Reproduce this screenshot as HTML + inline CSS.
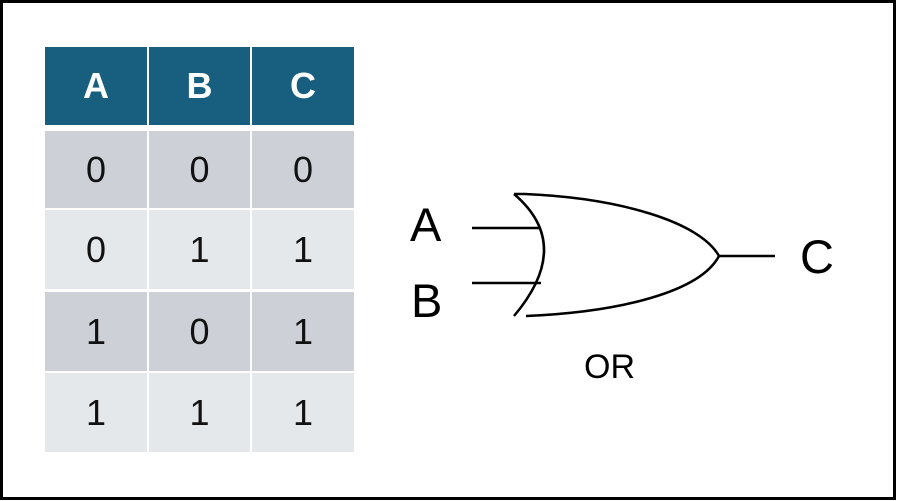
<!DOCTYPE html>
<html><head><meta charset="utf-8"><style>
html,body{margin:0;padding:0;background:#fff;width:911px;height:501px;overflow:hidden}
#frame{position:absolute;left:0;top:0;width:890px;height:494px;border:3px solid #000}
.cell{position:absolute;display:flex;align-items:center;justify-content:center;font-family:"Liberation Sans",sans-serif}
.h{background:#175e7f;color:#fff;font-weight:bold;font-size:36px}
.d{background:#cdd1d7;color:#111;font-size:36px}
.l{background:#e5e8eb;color:#111;font-size:36px}
svg{position:absolute;left:0;top:0}
</style></head><body>
<div id="frame"></div>
<div id="table"></div>
<svg width="911" height="501">
<g fill="none" stroke="#000" stroke-width="2.5">
<path d="M514,194 L525,194 C620,198 700,222 719,256 C700,292 620,312 526,316"/>
<path d="M514,194 Q574,245 514,316"/>
<line x1="472" y1="228" x2="541" y2="228"/>
<line x1="472" y1="283" x2="541" y2="283"/>
<line x1="719" y1="256" x2="775" y2="256"/>
</g>
<g font-family="Liberation Sans, sans-serif" fill="#000">
<text x="410" y="241" font-size="47">A</text>
<text x="411" y="317" font-size="47">B</text>
<text x="800" y="273" font-size="47">C</text>
<text x="584" y="378" font-size="34">OR</text>
</g>
</svg>
<script>
const headers=['A','B','C'];
const rows=[[0,0,0],[0,1,1],[1,0,1],[1,1,1]];
const colX=[45,149,252], colW=[102,101,102];
const rowY=[131,210,292,373], rowH=[77,79,79,79];
const t=document.getElementById('table');
headers.forEach((h,i)=>{
  const c=document.createElement('div');c.className='cell h';
  
  
  c.style.cssText=`left:${colX[i]}px;top:47px;width:${colW[i]}px;height:78px`;
  c.textContent=h;t.appendChild(c);
});
rows.forEach((r,ri)=>r.forEach((v,ci)=>{
  const c=document.createElement('div');c.className='cell '+(ri%2?'l':'d');
  
  
  c.style.cssText=`left:${colX[ci]}px;top:${rowY[ri]}px;width:${colW[ci]}px;height:${rowH[ri]}px`;
  c.textContent=v;t.appendChild(c);
}));
</script>
</body></html>
